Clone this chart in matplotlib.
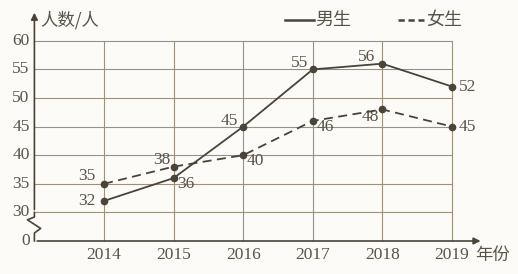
import matplotlib.pyplot as plt

years = [2014, 2015, 2016, 2017, 2018, 2019]
boys = [32, 36, 45, 55, 56, 52]
girls = [35, 38, 40, 46, 48, 45]
y_ticks = [0, 30, 35, 40, 45, 50, 55, 60]

# axis is broken between 0 and 30
def ty(v):
    return v - 25 if v >= 30 else v * 5 / 30

line_c = '#4a4438'
grid_c = '#9a927f'
text_c = '#5a5448'
num_font = 'Liberation Serif'
cjk_font = ['Noto Sans CJK SC', 'DejaVu Sans']
fs_num = 12.5

fig = plt.figure(figsize=(5.18, 2.74), dpi=100)
fig.patch.set_facecolor('#fcfbf8')
ax = fig.add_axes([0, 0, 1, 1])
ax.set_facecolor('#fcfbf8')
ax.axis('off')

# pixel mapping: 2014 -> x=104, step 69.6 ; y'=0 -> 241px, 5.72 px per unit
ax.set_xlim(2014 - 104 / 69.6, 2014 + 414 / 69.6)
ax.set_ylim(-33 / 5.72, 241 / 5.72)

x0 = 2013
# grid
for v in y_ticks[1:]:
    ax.plot([x0, 2019], [ty(v), ty(v)], color=grid_c, lw=0.8, zorder=1)
for yr in years:
    ax.plot([yr, yr], [0, ty(60)], color=grid_c, lw=0.8, zorder=1)

# axes with arrows
ax.annotate('', xy=(2019.45, 0), xytext=(x0, 0),
            arrowprops=dict(arrowstyle='-|>', color=line_c, lw=1.2, mutation_scale=10))
ax.annotate('', xy=(x0, 40.4), xytext=(x0, ty(30)),
            arrowprops=dict(arrowstyle='-|>', color=line_c, lw=1.2, mutation_scale=10))
# break zigzag
zx = [x0, x0, x0 - 0.1, x0 + 0.09, x0, x0]
zy = [ty(30), 4.2, 3.7, 2.2, 1.4, 0]
ax.plot(zx, zy, color=line_c, lw=1.2, zorder=3)

# tick labels
for v in y_ticks:
    ax.text(x0 - 0.07, ty(v), str(v), ha='right', va='center', fontsize=fs_num,
            family=num_font, color=text_c)
for yr in years:
    ax.text(yr, -2.4, str(yr), ha='center', va='center', fontsize=fs_num,
            family=num_font, color=text_c)
ax.text(2019.33, -2.4, '年份', ha='left', va='center', fontsize=12.5,
        family=cjk_font, color=text_c)
ax.text(x0 + 0.08, 38.6, '人数/人', ha='left', va='center', fontsize=12.5,
        family=cjk_font, color=text_c)

# lines
ax.plot(years, [ty(v) for v in boys], color=line_c, lw=1.3, marker='o', ms=4.5, zorder=4)
ax.plot(years, [ty(v) for v in girls], color=line_c, lw=1.3, ls=(0, (5, 3)),
        marker='o', ms=4.5, zorder=4)

# value labels (dx, dy in data units, ha)
boy_off = [(-0.12, 0, 'right'), (0.05, -1.0, 'left'), (-0.07, 1.0, 'right'),
           (-0.07, 1.1, 'right'), (-0.1, 1.2, 'right'), (0.1, 0, 'left')]
girl_off = [(-0.12, 1.3, 'right'), (-0.05, 1.2, 'right'), (0.05, -1.0, 'left'),
            (0.05, -1.1, 'left'), (-0.05, -1.3, 'right'), (0.1, 0, 'left')]
for yr, v, (dx, dy, ha) in zip(years, boys, boy_off):
    ax.text(yr + dx, ty(v) + dy, str(v), ha=ha, va='center', fontsize=fs_num,
            family=num_font, color=text_c)
for yr, v, (dx, dy, ha) in zip(years, girls, girl_off):
    ax.text(yr + dx, ty(v) + dy, str(v), ha=ha, va='center', fontsize=fs_num,
            family=num_font, color=text_c)

# legend
ax.plot([2016.6, 2017.02], [38.6, 38.6], color=line_c, lw=1.8)
ax.text(2017.04, 38.6, '男生', ha='left', va='center', fontsize=13,
        family=cjk_font, color=text_c)
ax.plot([2018.22, 2018.6], [38.6, 38.6], color=line_c, lw=1.8, ls=(0, (2.5, 1.5)))
ax.text(2018.63, 38.6, '女生', ha='left', va='center', fontsize=13,
        family=cjk_font, color=text_c)

fig.savefig('out.png', dpi=100, facecolor=fig.get_facecolor())
